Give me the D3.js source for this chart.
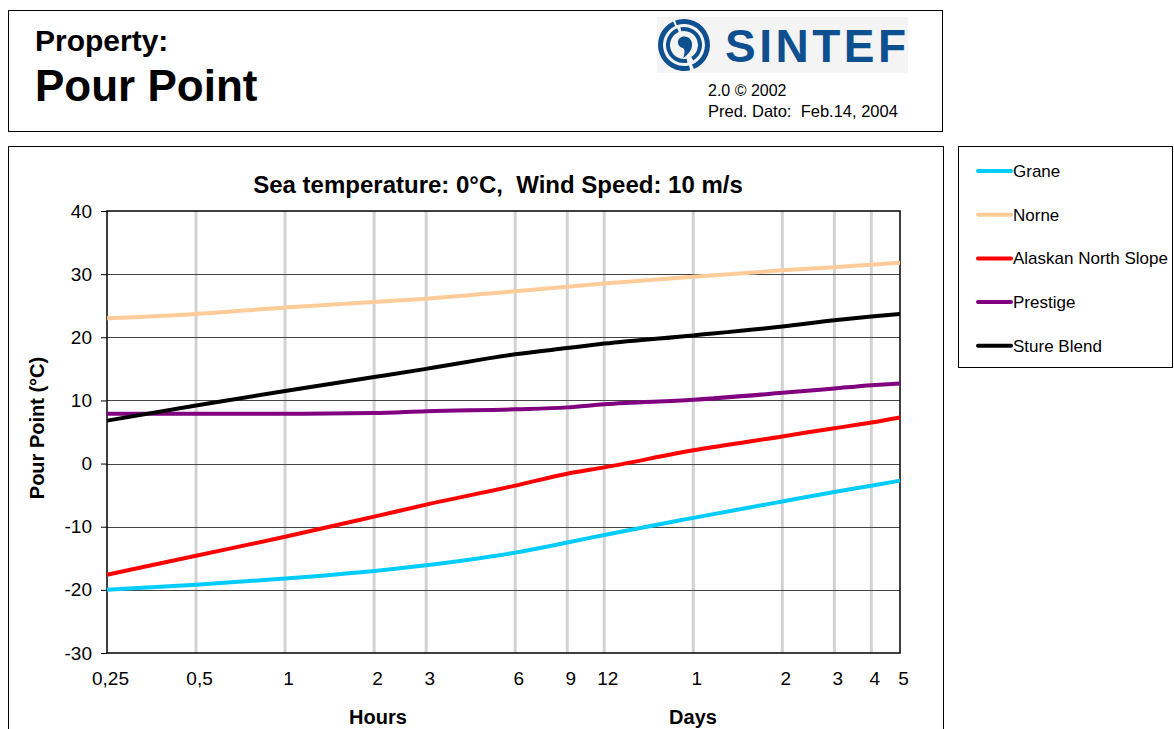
<!DOCTYPE html>
<html>
<head>
<meta charset="utf-8">
<script src="https://cdn.jsdelivr.net/npm/d3@7"></script>
<style>
    body { margin: 0; background: #fff; }
    svg { font-family: "Liberation Sans", Arial, sans-serif; }
</style>
</head>
<body>
<div id="chart"></div>
<script>
// time since spill, in hours
let hours = [0.25, 0.5, 1, 2, 3, 6, 9, 12, 24, 48, 72, 96, 120];

let grane    = [-20.0, -19.2, -18.2, -17.0, -16.1, -14.1, -12.5, -11.3, -8.6, -6.0, -4.5, -3.5, -2.7];
let norne    = [23.0, 23.7, 24.7, 25.6, 26.1, 27.3, 28.0, 28.5, 29.6, 30.6, 31.1, 31.5, 31.8];
let alaskan  = [-17.6, -14.6, -11.6, -8.4, -6.5, -3.5, -1.6, -0.6, 2.1, 4.3, 5.6, 6.5, 7.3];
let prestige = [7.9, 7.9, 7.9, 8.0, 8.3, 8.6, 8.9, 9.4, 10.1, 11.2, 11.9, 12.4, 12.7];
let sture    = [6.8, 9.2, 11.5, 13.7, 15.0, 17.3, 18.3, 19.0, 20.3, 21.7, 22.7, 23.3, 23.7];

let seriesNames = ["Grane", "Norne", "Alaskan North Slope", "Prestige", "Sture Blend"];
let seriesColors = ["#00ccff", "#ffcc99", "#ff0000", "#800080", "#000000"];

let xTickValues = [0.25, 0.5, 1, 2, 3, 6, 9, 12, 24, 48, 72, 96, 120];
let xTickLabels = ["0,25", "0,5", "1", "2", "3", "6", "9", "12", "1", "2", "3", "4", "5"];
let yTickValues = [-30, -20, -10, 0, 10, 20, 30, 40];

let width = 1174, height = 729;

let svg = d3.select("#chart").append("svg")
    .attr("width", width)
    .attr("height", height);

// header box
svg.append("rect")
    .attr("x", 8.5).attr("y", 10.5)
    .attr("width", 934).attr("height", 121)
    .attr("fill", "none").attr("stroke", "#000");

svg.append("text")
    .attr("x", 35).attr("y", 51)
    .attr("font-size", 30).attr("font-weight", "bold")
    .text("Property:");
svg.append("text")
    .attr("x", 35).attr("y", 101)
    .attr("font-size", 44).attr("font-weight", "bold")
    .text("Pour Point");

// logo
let logo = svg.append("g").attr("transform", "translate(657,17)");
logo.append("rect").attr("width", 251).attr("height", 56).attr("fill", "#f4f4f4");
let blue = "#0d4f8f";
let cx = 27, cy = 28;
let arc = d3.arc();
let rings = [
    {innerRadius: 21, outerRadius: 26, startAngle: -0.35, endAngle: 2.75},
    {innerRadius: 21, outerRadius: 26, startAngle: 2.9, endAngle: 5.85},
    {innerRadius: 14, outerRadius: 18, startAngle: -0.2, endAngle: 2.6},
    {innerRadius: 14, outerRadius: 18, startAngle: 2.95, endAngle: 5.9}
];
logo.selectAll(".ring")
    .data(rings)
    .enter().append("path")
    .attr("class", "ring")
    .attr("transform", "translate(" + cx + "," + cy + ")")
    .attr("d", d => arc(d))
    .attr("fill", blue);
logo.append("path")
    .attr("transform", "translate(" + cx + "," + cy + ")")
    .attr("d", "M-4,-7 C2,-11 9,-6 8,1 C7,7 2,11 -1,13 C1,8 1,5 -1,3 C-6,2 -8,-4 -4,-7 Z")
    .attr("fill", blue);
logo.append("text")
    .attr("x", 68).attr("y", 45)
    .attr("font-size", 46).attr("font-weight", "bold")
    .attr("fill", blue)
    .attr("letter-spacing", 3.5)
    .text("SINTEF");

svg.append("text")
    .attr("x", 708).attr("y", 96)
    .attr("font-size", 16)
    .text("2.0 \u00a9 2002");
svg.append("text")
    .attr("x", 708).attr("y", 117)
    .attr("font-size", 16.5)
    .attr("xml:space", "preserve")
    .text("Pred. Dato:  Feb.14, 2004");

// chart box
svg.append("rect")
    .attr("x", 8.5).attr("y", 146.5)
    .attr("width", 935).attr("height", 600)
    .attr("fill", "none").attr("stroke", "#000");

let plot = {left: 107, right: 900, top: 211, bottom: 653};

let x = d3.scaleLog().base(2)
    .domain([0.25, 120])
    .range([plot.left, plot.right]);
let y = d3.scaleLinear()
    .domain([-30, 40])
    .range([plot.bottom, plot.top]);

// vertical grid
svg.append("g")
    .selectAll("line")
    .data(xTickValues.slice(1, -1))
    .enter().append("line")
    .attr("x1", d => x(d)).attr("x2", d => x(d))
    .attr("y1", plot.top).attr("y2", plot.bottom)
    .attr("stroke", "#d2d2d2")
    .attr("stroke-width", 3);

// horizontal grid
svg.append("g")
    .selectAll("line")
    .data(yTickValues.slice(1, -1))
    .enter().append("line")
    .attr("x1", plot.left).attr("x2", plot.right)
    .attr("y1", d => Math.round(y(d)) + 0.5).attr("y2", d => Math.round(y(d)) + 0.5)
    .attr("stroke", "#444")
    .attr("stroke-width", 1);

// y axis
let yAxis = d3.axisLeft(y)
    .tickValues(yTickValues)
    .tickSize(6)
    .tickPadding(9)
    .tickFormat(d => String(d));
let yg = svg.append("g")
    .attr("transform", "translate(" + plot.left + ",0)")
    .call(yAxis);
yg.select(".domain").remove();
yg.selectAll("text").attr("font-size", 19).attr("fill", "#000").attr("font-family", "Liberation Sans, Arial, sans-serif");
yg.selectAll("line").attr("stroke", "#000");

// x axis labels
let xAxis = d3.axisBottom(x)
    .tickValues(xTickValues)
    .tickSize(0)
    .tickPadding(19)
    .tickFormat((d, i) => xTickLabels[i]);
let xg = svg.append("g")
    .attr("transform", "translate(3," + plot.bottom + ")")
    .call(xAxis);
xg.select(".domain").remove();
xg.selectAll("text").attr("font-size", 19).attr("fill", "#000").attr("font-family", "Liberation Sans, Arial, sans-serif");

// plot frame
svg.append("rect")
    .attr("x", plot.left).attr("y", plot.top)
    .attr("width", plot.right - plot.left)
    .attr("height", plot.bottom - plot.top)
    .attr("fill", "none")
    .attr("stroke", "#000")
    .attr("stroke-width", 1.5);

// series
let allSeries = [grane, norne, alaskan, prestige, sture];
let line = d3.line()
    .x((d, i) => x(hours[i]))
    .y(d => y(d))
    .curve(d3.curveMonotoneX);

svg.append("g")
    .selectAll("path")
    .data(allSeries)
    .enter().append("path")
    .attr("d", d => line(d))
    .attr("fill", "none")
    .attr("stroke", (d, i) => seriesColors[i])
    .attr("stroke-width", 4);

// titles
svg.append("text")
    .attr("x", 498).attr("y", 193)
    .attr("text-anchor", "middle")
    .attr("font-size", 24).attr("font-weight", "bold")
    .attr("xml:space", "preserve")
    .text("Sea temperature: 0\u00b0C,  Wind Speed: 10 m/s");

svg.append("text")
    .attr("transform", "translate(44,428) rotate(-90)")
    .attr("text-anchor", "middle")
    .attr("font-size", 20).attr("font-weight", "bold")
    .text("Pour Point (\u00b0C)");

svg.append("text")
    .attr("x", 378).attr("y", 724)
    .attr("text-anchor", "middle")
    .attr("font-size", 20).attr("font-weight", "bold")
    .text("Hours");
svg.append("text")
    .attr("x", 693).attr("y", 724)
    .attr("text-anchor", "middle")
    .attr("font-size", 20).attr("font-weight", "bold")
    .text("Days");

// legend
let legend = svg.append("g").attr("transform", "translate(958,146)");
legend.append("rect")
    .attr("x", 0.5).attr("y", 0.5)
    .attr("width", 214).attr("height", 221)
    .attr("fill", "#fff")
    .attr("stroke", "#000");
let items = legend.selectAll(".item")
    .data(seriesNames)
    .enter().append("g")
    .attr("class", "item")
    .attr("transform", (d, i) => "translate(0," + (25 + i * 43.7) + ")");
items.append("line")
    .attr("x1", 20).attr("x2", 53)
    .attr("stroke", (d, i) => seriesColors[i])
    .attr("stroke-width", 4)
    .attr("stroke-linecap", "round");
items.append("text")
    .attr("x", 55).attr("y", 6)
    .attr("font-size", 17)
    .text(d => d);
</script>
</body>
</html>
